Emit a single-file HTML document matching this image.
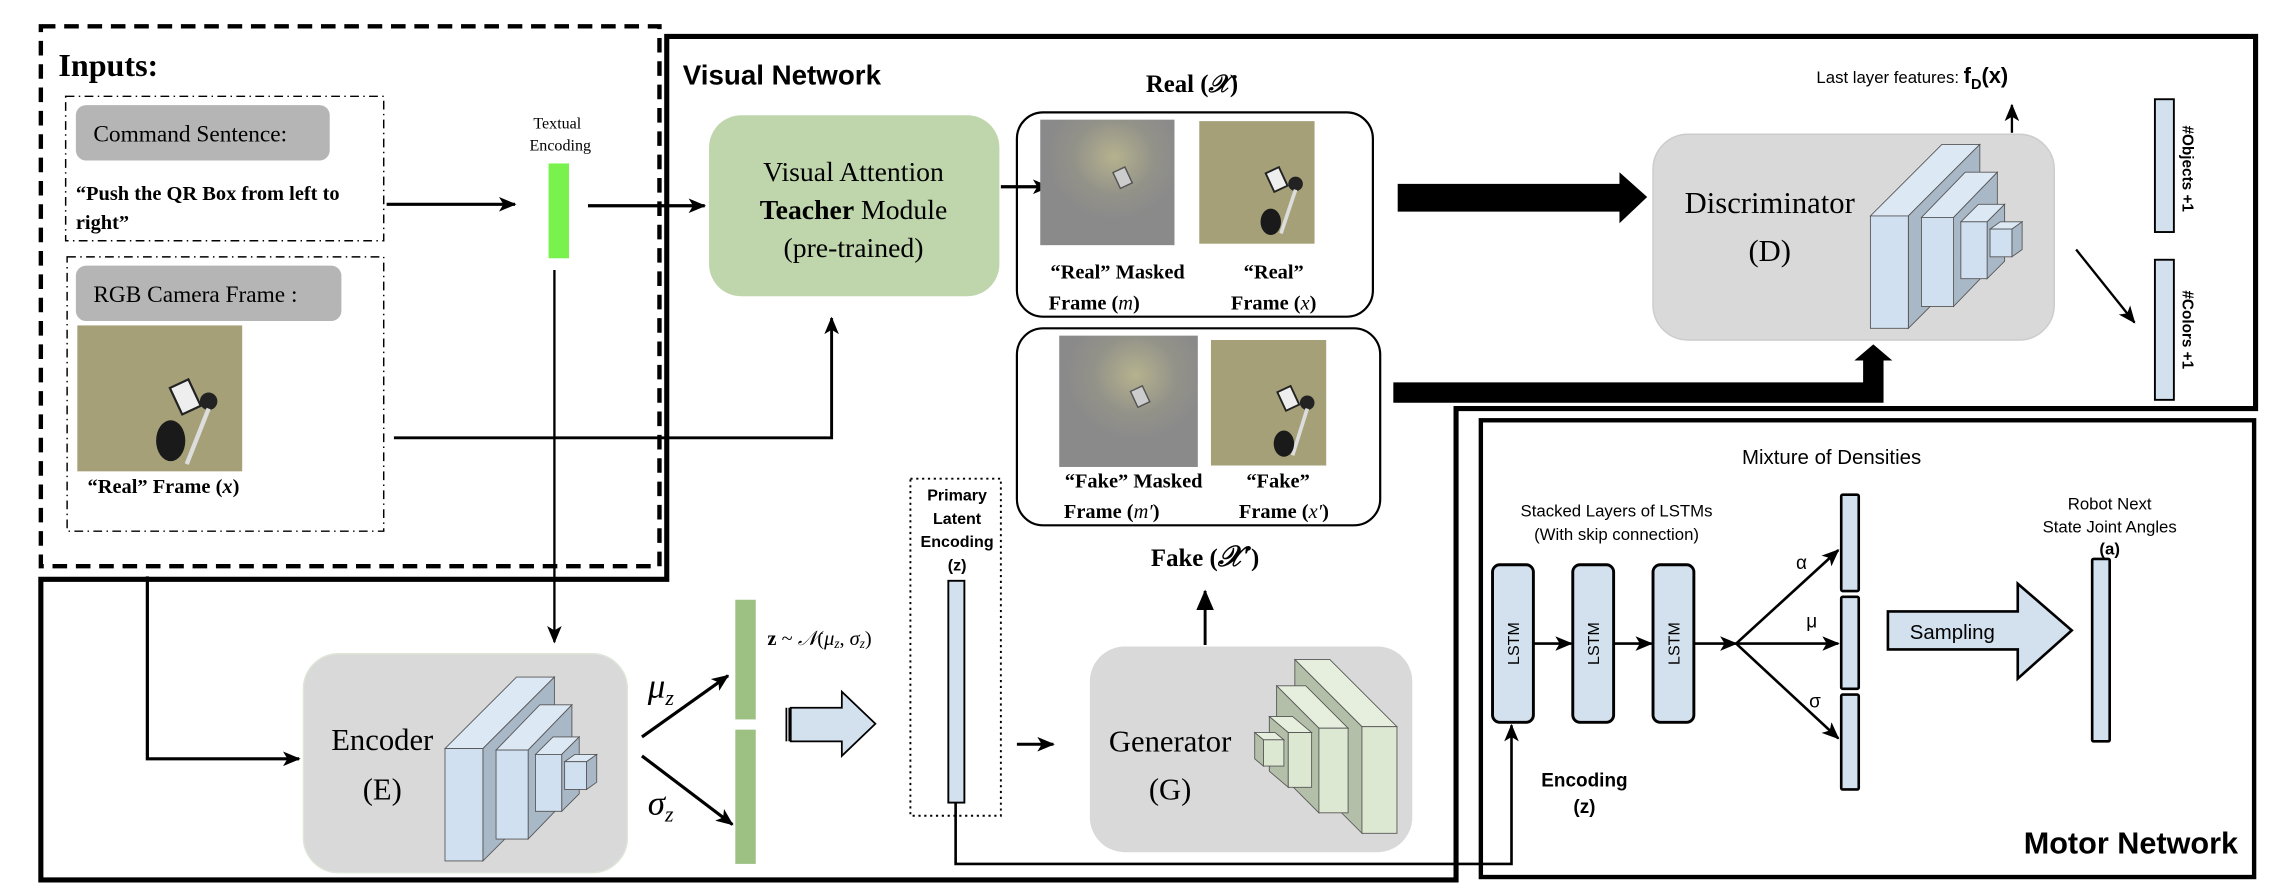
<!DOCTYPE html>
<html><head><meta charset="utf-8">
<style>
html,body{margin:0;padding:0;background:#fff;}
svg{display:block;}
.serif{font-family:"Liberation Serif",serif;}
.sans{font-family:"Liberation Sans",sans-serif;}
</style></head>
<body>
<svg id="s" width="2276" height="896" viewBox="0 0 1560 614" preserveAspectRatio="none" xmlns="http://www.w3.org/2000/svg">
<defs>
<marker id="ah" viewBox="0 0 12 10" refX="11" refY="5" markerWidth="12" markerHeight="10" markerUnits="userSpaceOnUse" orient="auto">
<path d="M0,0 L12,5 L0,10 L3,5 z" fill="#000"/></marker>
<marker id="ah2" viewBox="0 0 14 12" refX="13" refY="6" markerWidth="14" markerHeight="12" markerUnits="userSpaceOnUse" orient="auto">
<path d="M0,0 L14,6 L0,12 z" fill="#000"/></marker>
<radialGradient id="glow" cx="0.55" cy="0.3" r="0.5">
<stop offset="0" stop-color="#b5b28e"/><stop offset="0.6" stop-color="#939289"/><stop offset="1" stop-color="#8a8a8a"/></radialGradient>
</defs>

<!-- Inputs dashed box -->
<rect x="28" y="18" width="424" height="370" fill="none" stroke="#000" stroke-width="3" stroke-dasharray="10,6"/>
<text x="40" y="52" class="serif" font-weight="bold" font-size="22">Inputs:</text>
<rect x="45" y="66" width="218" height="99" fill="none" stroke="#000" stroke-width="1" stroke-dasharray="6,3,1,3"/>
<rect x="52" y="72" width="174" height="38" rx="7" fill="#b5b5b5"/>
<text x="64" y="97" class="serif" font-size="16">Command Sentence:</text>
<text x="52" y="137" class="serif" font-weight="bold" font-size="14">“Push the QR Box from left to</text>
<text x="52" y="157" class="serif" font-weight="bold" font-size="14">right”</text>
<rect x="46" y="176" width="217" height="188" fill="none" stroke="#000" stroke-width="1" stroke-dasharray="6,3,1,3"/>
<rect x="52" y="182" width="182" height="38" rx="7" fill="#b5b5b5"/>
<text x="64" y="207" class="serif" font-size="16">RGB Camera Frame :</text>
<g>
<rect x="53" y="223" width="113" height="100" fill="#a5a078"/>
<rect x="120" y="262" width="14" height="20" fill="#eee" stroke="#222" stroke-width="1.5" transform="rotate(-25 127 272)"/>
<circle cx="143" cy="275" r="6" fill="#222"/>
<line x1="143" y1="280" x2="128" y2="318" stroke="#ddd" stroke-width="3"/>
<ellipse cx="117" cy="302" rx="10" ry="14" fill="#1a1a1a"/>
</g>
<text x="60" y="338" class="serif" font-weight="bold" font-size="14">“Real” Frame (<tspan font-style="italic">x</tspan>)</text>

<text x="382" y="88" class="serif" font-size="11" text-anchor="middle">Textual</text>
<text x="384" y="103" class="serif" font-size="11" text-anchor="middle">Encoding</text>
<rect x="376" y="112" width="14" height="65" fill="#7af24e"/>
<line x1="265" y1="140" x2="353" y2="140" stroke="#000" stroke-width="2.2" marker-end="url(#ah)"/>
<line x1="403" y1="141" x2="483" y2="141" stroke="#000" stroke-width="2.2" marker-end="url(#ah)"/>

<!-- Visual network outline -->
<path d="M457,25 L1546,25 L1546,280 L998,280 L998,603 L28,603 L28,397 L457,397 Z" fill="none" stroke="#000" stroke-width="3.5"/>
<text x="468" y="58" class="sans" font-weight="bold" font-size="19">Visual Network</text>

<rect x="486" y="79" width="199" height="124" rx="22" fill="#bfd6ac"/>
<text x="585" y="124" class="serif" font-size="19" text-anchor="middle">Visual Attention</text>
<text x="585" y="150" class="serif" font-size="19" text-anchor="middle"><tspan font-weight="bold">Teacher</tspan> Module</text>
<text x="585" y="176" class="serif" font-size="19" text-anchor="middle">(pre-trained)</text>
<line x1="686" y1="128" x2="719" y2="128" stroke="#000" stroke-width="2.2" marker-end="url(#ah)"/>

<line x1="380" y1="185" x2="380" y2="440" stroke="#000" stroke-width="1.6" marker-end="url(#ah)"/>
<polyline points="270,300 570,300 570,218" fill="none" stroke="#000" stroke-width="2" marker-end="url(#ah)"/>
<polyline points="101,395 101,520 205,520" fill="none" stroke="#000" stroke-width="2.2" marker-end="url(#ah)"/>

<!-- Real box -->
<text x="817" y="63" class="serif" font-weight="bold" font-size="17" text-anchor="middle">Real (<tspan font-style="italic">𝒳</tspan>)</text>
<rect x="697" y="77" width="244" height="140" rx="18" fill="none" stroke="#000" stroke-width="1.5"/>
<rect x="713" y="82" width="92" height="86" fill="url(#glow)"/>
<rect x="765" y="116" width="9" height="12" fill="#ccc" stroke="#555" transform="rotate(-25 769 122)"/>
<rect x="822" y="83" width="79" height="84" fill="#a5a078"/>
<rect x="870" y="116" width="10" height="14" fill="#eee" stroke="#222" stroke-width="1.3" transform="rotate(-25 875 123)"/>
<circle cx="888" cy="126" r="5" fill="#222"/>
<line x1="888" y1="130" x2="878" y2="160" stroke="#ddd" stroke-width="2.5"/>
<ellipse cx="871" cy="152" rx="7" ry="9" fill="#1a1a1a"/>
<text x="766" y="191" class="serif" font-weight="bold" font-size="14" text-anchor="middle">“Real” Masked</text>
<text x="750" y="212" class="serif" font-weight="bold" font-size="14" text-anchor="middle">Frame (<tspan font-style="italic" font-weight="normal">m</tspan>)</text>
<text x="873" y="191" class="serif" font-weight="bold" font-size="14" text-anchor="middle">“Real”</text>
<text x="873" y="212" class="serif" font-weight="bold" font-size="14" text-anchor="middle">Frame (<tspan font-style="italic" font-weight="normal">x</tspan>)</text>

<!-- Fake box -->
<rect x="697" y="225" width="249" height="135" rx="18" fill="none" stroke="#000" stroke-width="1.5"/>
<rect x="726" y="230" width="95" height="90" fill="url(#glow)"/>
<rect x="777" y="266" width="9" height="12" fill="#ccc" stroke="#555" transform="rotate(-25 781 272)"/>
<rect x="830" y="233" width="79" height="86" fill="#a5a078"/>
<rect x="878" y="266" width="10" height="14" fill="#eee" stroke="#222" stroke-width="1.3" transform="rotate(-25 883 273)"/>
<circle cx="896" cy="276" r="5" fill="#222"/>
<line x1="896" y1="280" x2="886" y2="312" stroke="#ddd" stroke-width="2.5"/>
<ellipse cx="880" cy="304" rx="7" ry="9" fill="#1a1a1a"/>
<text x="777" y="334" class="serif" font-weight="bold" font-size="14" text-anchor="middle">“Fake” Masked</text>
<text x="762" y="355" class="serif" font-weight="bold" font-size="14" text-anchor="middle">Frame (<tspan font-style="italic" font-weight="normal">m′</tspan>)</text>
<text x="876" y="334" class="serif" font-weight="bold" font-size="14" text-anchor="middle">“Fake”</text>
<text x="880" y="355" class="serif" font-weight="bold" font-size="14" text-anchor="middle">Frame (<tspan font-style="italic" font-weight="normal">x′</tspan>)</text>
<text x="826" y="388" class="serif" font-weight="bold" font-size="17" text-anchor="middle">Fake (<tspan font-style="italic" font-size="20">𝒳′</tspan>)</text>

<polygon points="958,126 1110,126 1110,118 1129,135 1110,153 1110,145 958,145" fill="#000"/>
<polygon points="955,262 1277,262 1277,247 1271,247 1284,236 1297,247 1291,247 1291,276 955,276" fill="#000"/>

<!-- Discriminator -->
<rect x="1133" y="92" width="275" height="141" rx="24" fill="#d9d9d9" stroke="#ccc"/>
<text x="1213" y="146" class="serif" font-size="21" text-anchor="middle">Discriminator</text>
<text x="1213" y="179" class="serif" font-size="21" text-anchor="middle">(D)</text>
<g id="disc"></g>
<text x="1245" y="57" class="sans" font-size="11.5">Last layer features: <tspan font-weight="bold" font-size="15">f</tspan><tspan font-weight="bold" font-size="10" dy="4">D</tspan><tspan font-weight="bold" font-size="15" dy="-4">(x)</tspan></text>
<line x1="1379" y1="91" x2="1379" y2="72" stroke="#000" stroke-width="1.6" marker-end="url(#ah)"/>
<rect x="1477" y="68" width="13" height="91" fill="#d3e1ef" stroke="#000" stroke-width="1.3"/>
<rect x="1477" y="178" width="13" height="96" fill="#d3e1ef" stroke="#000" stroke-width="1.3"/>
<text class="sans" font-weight="bold" font-size="10.5" transform="translate(1496,86) rotate(90)">#Objects +1</text>
<text class="sans" font-weight="bold" font-size="10.5" transform="translate(1496,199) rotate(90)">#Colors +1</text>
<line x1="1423" y1="171" x2="1463" y2="221" stroke="#000" stroke-width="1.6" marker-end="url(#ah)"/>

<!-- Encoder -->
<rect x="208" y="448" width="222" height="150" rx="24" fill="#d9d9d9" stroke="#dde6d8"/>
<text x="262" y="514" class="serif" font-size="21" text-anchor="middle">Encoder</text>
<text x="262" y="548" class="serif" font-size="21" text-anchor="middle">(E)</text>
<g id="enc"></g>
<text x="444" y="478" class="serif" font-style="italic" font-size="24">μ<tspan font-size="15" dy="5">z</tspan></text>
<text x="444" y="558" class="serif" font-style="italic" font-size="24">σ<tspan font-size="15" dy="5">z</tspan></text>
<line x1="440" y1="505" x2="499" y2="463" stroke="#000" stroke-width="2.2" marker-end="url(#ah)"/>
<line x1="440" y1="518" x2="502" y2="565" stroke="#000" stroke-width="2.2" marker-end="url(#ah)"/>
<rect x="504" y="411" width="14" height="82" fill="#9dc183"/>
<rect x="504" y="500" width="14" height="92" fill="#9dc183"/>
<text x="526" y="442" class="serif" font-size="14"><tspan font-weight="bold">z</tspan> ~ <tspan font-style="italic">𝒩</tspan>(<tspan font-style="italic">μ<tspan font-size="9" dy="2">z</tspan></tspan><tspan dy="-2">, </tspan><tspan font-style="italic">σ<tspan font-size="9" dy="2">z</tspan></tspan><tspan dy="-2">)</tspan></text>
<polygon points="542,485 577,485 577,474 600,496 577,518 577,508 542,508" fill="#d3e1ef" stroke="#000" stroke-width="1.2"/>
<line x1="539" y1="485" x2="539" y2="508" stroke="#000" stroke-width="1.2"/>
<line x1="541" y1="485" x2="541" y2="508" stroke="#000" stroke-width="1.2"/>

<!-- Primary latent -->
<rect x="624" y="328" width="62" height="231" fill="none" stroke="#000" stroke-width="1.3" stroke-dasharray="1.5,2.5"/>
<text x="656" y="343" class="sans" font-weight="bold" font-size="11" text-anchor="middle">Primary</text>
<text x="656" y="359" class="sans" font-weight="bold" font-size="11" text-anchor="middle">Latent</text>
<text x="656" y="375" class="sans" font-weight="bold" font-size="11" text-anchor="middle">Encoding</text>
<text x="656" y="391" class="sans" font-weight="bold" font-size="11" text-anchor="middle">(z)</text>
<rect x="650" y="398" width="11" height="152" fill="#d3e1ef" stroke="#000" stroke-width="1.3"/>
<line x1="697" y1="510" x2="722" y2="510" stroke="#000" stroke-width="2" marker-end="url(#ah)"/>
<polyline points="655,550 655,592 1036,592 1036,497" fill="none" stroke="#000" stroke-width="1.8" marker-end="url(#ah)"/>

<!-- Generator -->
<rect x="747" y="443" width="221" height="141" rx="24" fill="#d9d9d9"/>
<text x="802" y="515" class="serif" font-size="21" text-anchor="middle">Generator</text>
<text x="802" y="548" class="serif" font-size="21" text-anchor="middle">(G)</text>
<g id="gen"></g>
<line x1="826" y1="442" x2="826" y2="405" stroke="#000" stroke-width="2" marker-end="url(#ah2)"/>

<!-- Motor network -->
<rect x="1015" y="288" width="530" height="313" fill="none" stroke="#000" stroke-width="3"/>
<text x="1194" y="318" class="sans" font-size="14">Mixture of Densities</text>
<text x="1108" y="354" class="sans" font-size="11.5" text-anchor="middle">Stacked Layers of LSTMs</text>
<text x="1108" y="370" class="sans" font-size="11.5" text-anchor="middle">(With skip connection)</text>
<text x="1446" y="349" class="sans" font-size="11.5" text-anchor="middle">Robot Next</text>
<text x="1446" y="365" class="sans" font-size="11.5" text-anchor="middle">State Joint Angles</text>
<text x="1446" y="380" class="sans" font-size="11.5" font-weight="bold" text-anchor="middle">(a)</text>
<g stroke="#000" stroke-width="2" fill="#d3e1ef">
<rect x="1023" y="387" width="28" height="108" rx="5"/>
<rect x="1078" y="387" width="28" height="108" rx="5"/>
<rect x="1133" y="387" width="28" height="108" rx="5"/>
</g>
<g class="sans" font-size="11" text-anchor="middle">
<text transform="translate(1041,441) rotate(-90)">LSTM</text>
<text transform="translate(1096,441) rotate(-90)">LSTM</text>
<text transform="translate(1151,441) rotate(-90)">LSTM</text>
</g>
<g stroke="#000" stroke-width="1.8">
<line x1="1051" y1="441" x2="1077" y2="441" marker-end="url(#ah)"/>
<line x1="1106" y1="441" x2="1132" y2="441" marker-end="url(#ah)"/>
<line x1="1161" y1="441" x2="1190" y2="441" marker-end="url(#ah)"/>
<line x1="1190" y1="441" x2="1260" y2="441" marker-end="url(#ah)"/>
<line x1="1190" y1="441" x2="1260" y2="377" marker-end="url(#ah)"/>
<line x1="1190" y1="441" x2="1260" y2="506" marker-end="url(#ah)"/>
</g>
<g class="sans" font-size="13">
<text x="1231" y="390">α</text><text x="1238" y="430">μ</text><text x="1240" y="485">σ</text>
</g>
<g stroke="#000" stroke-width="1.8" fill="#d3e1ef">
<rect x="1262" y="339" width="12" height="66" rx="1"/>
<rect x="1262" y="409" width="12" height="63" rx="1"/>
<rect x="1262" y="476" width="12" height="65" rx="1"/>
<rect x="1434" y="383" width="12" height="125" rx="1"/>
</g>
<polygon points="1294,419 1383,419 1383,400 1420,432 1383,465 1383,445 1294,445" fill="#d3e1ef" stroke="#000" stroke-width="1.8"/>
<text x="1309" y="438" class="sans" font-size="14">Sampling</text>
<text x="1086" y="539" class="sans" font-weight="bold" font-size="13" text-anchor="middle">Encoding</text>
<text x="1086" y="557" class="sans" font-weight="bold" font-size="13" text-anchor="middle">(z)</text>
<text x="1534" y="585" class="sans" font-weight="bold" font-size="21" text-anchor="end">Motor Network</text>
</svg>
<script>
(function(){
var NS="http://www.w3.org/2000/svg";
function slab(g,x,y,w,h,dx,dy,c){
  function poly(pts,f){var p=document.createElementNS(NS,"polygon");p.setAttribute("points",pts.map(function(a){return a[0]+","+a[1]}).join(" "));p.setAttribute("fill",f);p.setAttribute("stroke","#555");p.setAttribute("stroke-width","0.6");g.appendChild(p);}
  poly([[x,y],[x+dx,y+dy],[x+w+dx,y+dy],[x+w,y]],c[1]);
  var sx=dx>0?x+w:x;
  poly([[sx,y],[sx+dx,y+dy],[sx+dx,y+h+dy],[sx,y+h]],c[2]);
  poly([[x,y],[x+w,y],[x+w,y+h],[x,y+h]],c[0]);
}
var blue=["#d0e0f0","#dce8f4","#a9b8c7"], green=["#dde8d3","#e6efde","#b3bfa8"];
var D=[[1282,148,26,77,49,-49],[1317,149,22,61,30,-31],[1344,152,18,39,12,-12],[1364,157,15,19,7,-5]];
var dg=document.getElementById("disc"), eg=document.getElementById("enc"), gg=document.getElementById("gen");
D.forEach(function(s){slab(dg,s[0],s[1],s[2],s[3],s[4],s[5],blue);});
D.forEach(function(s){slab(eg,s[0]-977,s[1]+365,s[2],s[3],s[4],s[5],blue);});
var G=[[933.5,498,24,73,-46,-46],[904,499,20,58,-29,-29],[883,502,16,37.5,-13,-11],[866,507,14,18,-6,-5]];
G.forEach(function(s){slab(gg,s[0],s[1],s[2],s[3],s[4],s[5],green);});
})();
</script>
</body></html>
